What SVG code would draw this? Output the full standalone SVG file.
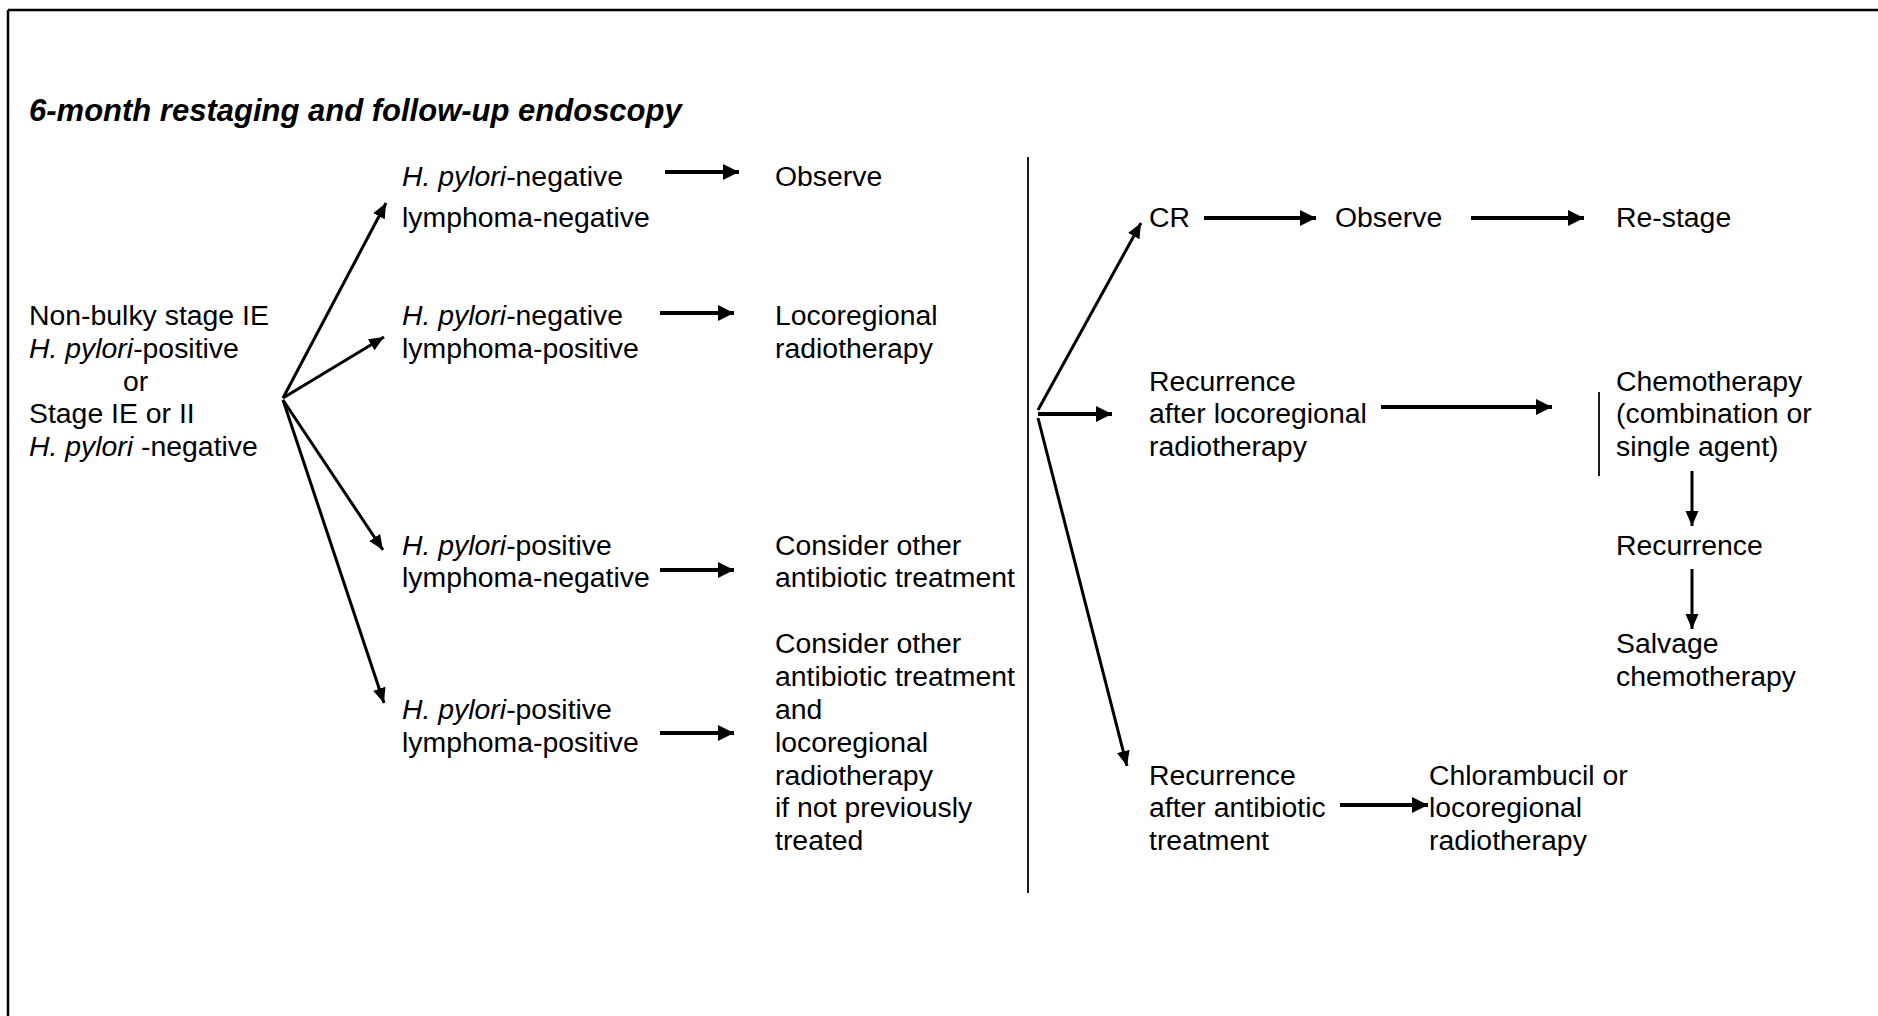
<svg xmlns="http://www.w3.org/2000/svg" width="1878" height="1016" viewBox="0 0 1878 1016">
<style>
text{font-family:"Liberation Sans",Arial,sans-serif;font-size:28.4px;fill:#000}
.title{font-weight:bold;font-style:italic;font-size:31px}
.i{font-style:italic}
.c{stroke:#000;fill:none}
.thick{stroke-width:4;marker-end:url(#ah)}
.thin{stroke-width:3;marker-end:url(#ah2)}
.bar{stroke-width:1.8}
</style>
<defs>
<marker id="ah" markerUnits="userSpaceOnUse" markerWidth="17" markerHeight="17" refX="16" refY="8" orient="auto" viewBox="0 0 17 17">
<path d="M0,0 L16,8 L0,16 z" fill="#000"/>
</marker>
<marker id="ah2" markerUnits="userSpaceOnUse" markerWidth="16" markerHeight="16" refX="15" refY="6.5" orient="auto" viewBox="0 0 16 16">
<path d="M0,0 L15,6.5 L0,13 z" fill="#000"/>
</marker>
</defs>
<rect width="1878" height="1016" fill="#fff"/>
<g id="frame">
<line x1="8" y1="10" x2="1878" y2="10" stroke="#000" stroke-width="2.5"/>
<line x1="8" y1="10" x2="8" y2="1016" stroke="#000" stroke-width="2.5"/>
</g>
<g id="title"><text class="title" x="29" y="121">6-month restaging and follow-up endoscopy</text></g>

<g id="start">
<text x="29" y="325">Non-bulky stage IE</text>
<text x="29" y="358"><tspan class="i">H. pylori</tspan>-positive</text>
<text x="123" y="391">or</text>
<text x="29" y="423">Stage IE or II</text>
<text x="29" y="456"><tspan class="i">H. pylori</tspan> -negative</text>
</g>

<g id="hpneg-lneg">
<text x="402" y="186"><tspan class="i">H. pylori</tspan>-negative</text>
<text x="402" y="227">lymphoma-negative</text>
</g>
<g id="hpneg-lpos">
<text x="402" y="325"><tspan class="i">H. pylori</tspan>-negative</text>
<text x="402" y="358">lymphoma-positive</text>
</g>
<g id="hppos-lneg">
<text x="402" y="555"><tspan class="i">H. pylori</tspan>-positive</text>
<text x="402" y="587">lymphoma-negative</text>
</g>
<g id="hppos-lpos">
<text x="402" y="719"><tspan class="i">H. pylori</tspan>-positive</text>
<text x="402" y="752">lymphoma-positive</text>
</g>

<g id="observe1"><text x="775" y="186">Observe</text></g>
<g id="locoregional1">
<text x="775" y="325">Locoregional</text>
<text x="775" y="358">radiotherapy</text>
</g>
<g id="antibiotic1">
<text x="775" y="555">Consider other</text>
<text x="775" y="587">antibiotic treatment</text>
</g>
<g id="antibiotic2">
<text x="775" y="653">Consider other</text>
<text x="775" y="686">antibiotic treatment</text>
<text x="775" y="719">and</text>
<text x="775" y="752">locoregional</text>
<text x="775" y="785">radiotherapy</text>
<text x="775" y="817">if not previously</text>
<text x="775" y="850">treated</text>
</g>

<g id="cr"><text x="1149" y="227">CR</text></g>
<g id="observe2"><text x="1335" y="227">Observe</text></g>
<g id="restage"><text x="1616" y="227">Re-stage</text></g>
<g id="rec-radio">
<text x="1149" y="391">Recurrence</text>
<text x="1149" y="423">after locoregional</text>
<text x="1149" y="456">radiotherapy</text>
</g>
<g id="chemo">
<text x="1616" y="391">Chemotherapy</text>
<text x="1616" y="423">(combination or</text>
<text x="1616" y="456">single agent)</text>
</g>
<g id="recurrence"><text x="1616" y="555">Recurrence</text></g>
<g id="salvage">
<text x="1616" y="653">Salvage</text>
<text x="1616" y="686">chemotherapy</text>
</g>
<g id="rec-antibiotic">
<text x="1149" y="785">Recurrence</text>
<text x="1149" y="817">after antibiotic</text>
<text x="1149" y="850">treatment</text>
</g>
<g id="chlorambucil">
<text x="1429" y="785">Chlorambucil or</text>
<text x="1429" y="817">locoregional</text>
<text x="1429" y="850">radiotherapy</text>
</g>

<g id="connectors">
<line class="c thin" x1="283" y1="398" x2="386" y2="203"/>
<line class="c thin" x1="283" y1="398" x2="384" y2="337"/>
<line class="c thin" x1="283" y1="400" x2="383" y2="550"/>
<line class="c thin" x1="283" y1="400" x2="384" y2="703"/>

<line class="c thick" x1="665" y1="172" x2="739" y2="172"/>
<line class="c thick" x1="660" y1="313" x2="734" y2="313"/>
<line class="c thick" x1="660" y1="570" x2="734" y2="570"/>
<line class="c thick" x1="660" y1="733" x2="734" y2="733"/>

<line class="c bar" x1="1028" y1="157" x2="1028" y2="893"/>

<line class="c thin" x1="1038" y1="410" x2="1141" y2="223"/>
<line class="c thick" x1="1038" y1="414" x2="1112" y2="414"/>
<line class="c thin" x1="1038" y1="418" x2="1127" y2="766"/>

<line class="c thick" x1="1204" y1="218" x2="1316" y2="218"/>
<line class="c thick" x1="1471" y1="218" x2="1584" y2="218"/>
<line class="c thick" x1="1381" y1="407" x2="1552" y2="407"/>
<line class="c bar" x1="1599" y1="392" x2="1599" y2="476"/>
<line class="c thin" x1="1692" y1="471" x2="1692" y2="526"/>
<line class="c thin" x1="1692" y1="569" x2="1692" y2="629"/>
<line class="c thick" x1="1340" y1="805" x2="1428" y2="805"/>
</g>
</svg>
